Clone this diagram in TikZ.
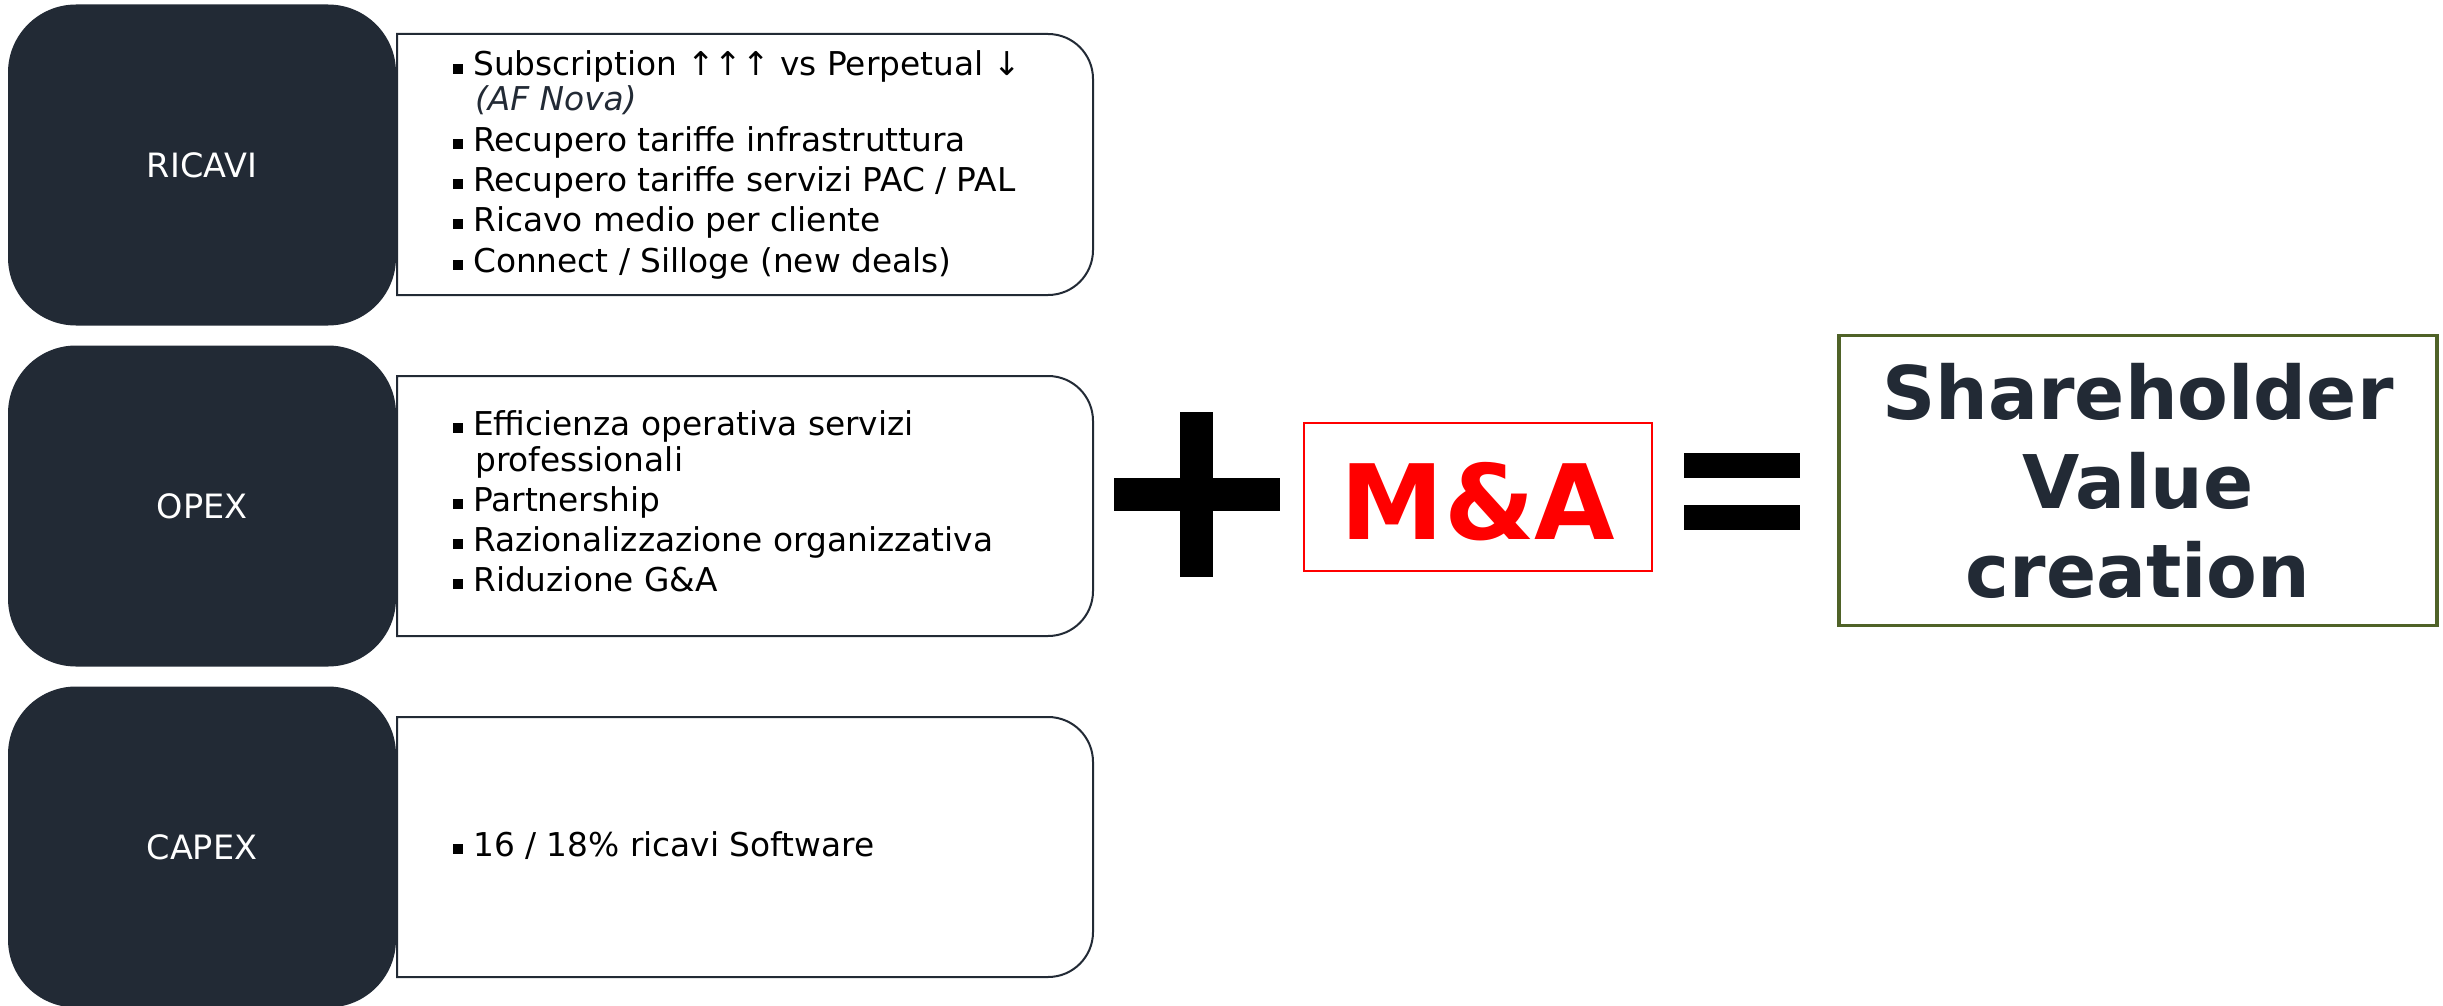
\documentclass[tikz,border=0pt]{standalone}
\usepackage{fontspec}
\setmainfont{DejaVu Sans}
\definecolor{navy}{RGB}{34,42,53}
\definecolor{olivegreen}{RGB}{79,98,40}
\definecolor{mared}{RGB}{255,0,0}
\newcommand\whitebox[4]{%
  \filldraw[wline] (#1,#2) -- ({#3-45},#2) .. controls ({#3-20.1},#2) and (#3,{#2+20.1}) .. (#3,{#2+45})
    -- (#3,{#4-45}) .. controls (#3,{#4-20.1}) and ({#3-20.1},#4) .. ({#3-45},#4) -- (#1,#4) -- cycle;}
\newcommand\bul{\rule[2pt]{10pt}{10pt}\hspace{10pt}}
\begin{document}
\begin{tikzpicture}[x=1pt,y=-1pt,
  catbox/.style={fill=navy, draw=none, rounded corners=68pt, minimum width=388pt,
    minimum height=321pt, inner sep=0pt, text=white, font=\fontsize{33.5}{40}\selectfont},
  item/.style={anchor=base west, inner sep=0pt, font=\fontsize{32.8}{40}\selectfont, text=black},
  wline/.style={draw=navy, line width=2pt, fill=white},
  opbar/.style={fill=black, draw=none},
]
\useasboundingbox (0,0) rectangle (2443,1006);
\fill[white] (0,0) rectangle (2443,1006);

% white detail boxes
\whitebox{397}{34}{1093}{295}
\whitebox{397}{376}{1093}{636}
\whitebox{397}{717}{1093}{977}

% category boxes
\node[catbox] (ricavi) at (202,165) {RICAVI};
\node[catbox] (opex) at (202,506) {OPEX};
\node[catbox] (capex) at (202,847) {CAPEX};

% RICAVI items
\node[item] (r1) at (453,76) {\bul Subscription ↑↑↑ vs Perpetual ↓};
\node[item, text=navy] (r1b) at (475,111) {\itshape (AF Nova)};
\node[item] (r2) at (453,151) {\bul Recupero tariffe infrastruttura};
\node[item] (r3) at (453,191) {\bul Recupero tariffe servizi PAC / PAL};
\node[item] (r4) at (453,231) {\bul Ricavo medio per cliente};
\node[item] (r5) at (453,272) {\bul Connect / Silloge (new deals)};

% OPEX items
\node[item] (o1) at (453,435) {\bul Efficienza operativa servizi};
\node[item] (o1b) at (475,471) {professionali};
\node[item] (o2) at (453,511) {\bul Partnership};
\node[item] (o3) at (453,551) {\bul Razionalizzazione organizzativa};
\node[item] (o4) at (453,591) {\bul Riduzione G\&A};

% CAPEX items
\node[item] (c1) at (453,856) {\bul 16 / 18\% ricavi Software};

% plus sign
\fill[opbar] (1180,412) rectangle (1213,577);
\fill[opbar] (1114,478) rectangle (1280,511);

% M&A box
\node[draw=mared, line width=2pt, minimum width=348pt, minimum height=148pt, inner sep=0pt,
  text=mared, font=\fontsize{104}{110}\selectfont\bfseries, text height=84pt, text depth=0pt]
  (ma) at (1478,497) {M\&A};

% equals sign
\fill[opbar] (1684,453) rectangle (1800,478);
\fill[opbar] (1684,505) rectangle (1800,530);

% result box
\node[draw=olivegreen, line width=3.5pt, minimum width=598pt, minimum height=290pt, inner sep=0pt,
  text=navy, align=center, font=\fontsize{74}{89}\selectfont\bfseries]
  (svc) at (2138,480.5) {Shareholder\\Value\\creation};
\end{tikzpicture}
\end{document}
